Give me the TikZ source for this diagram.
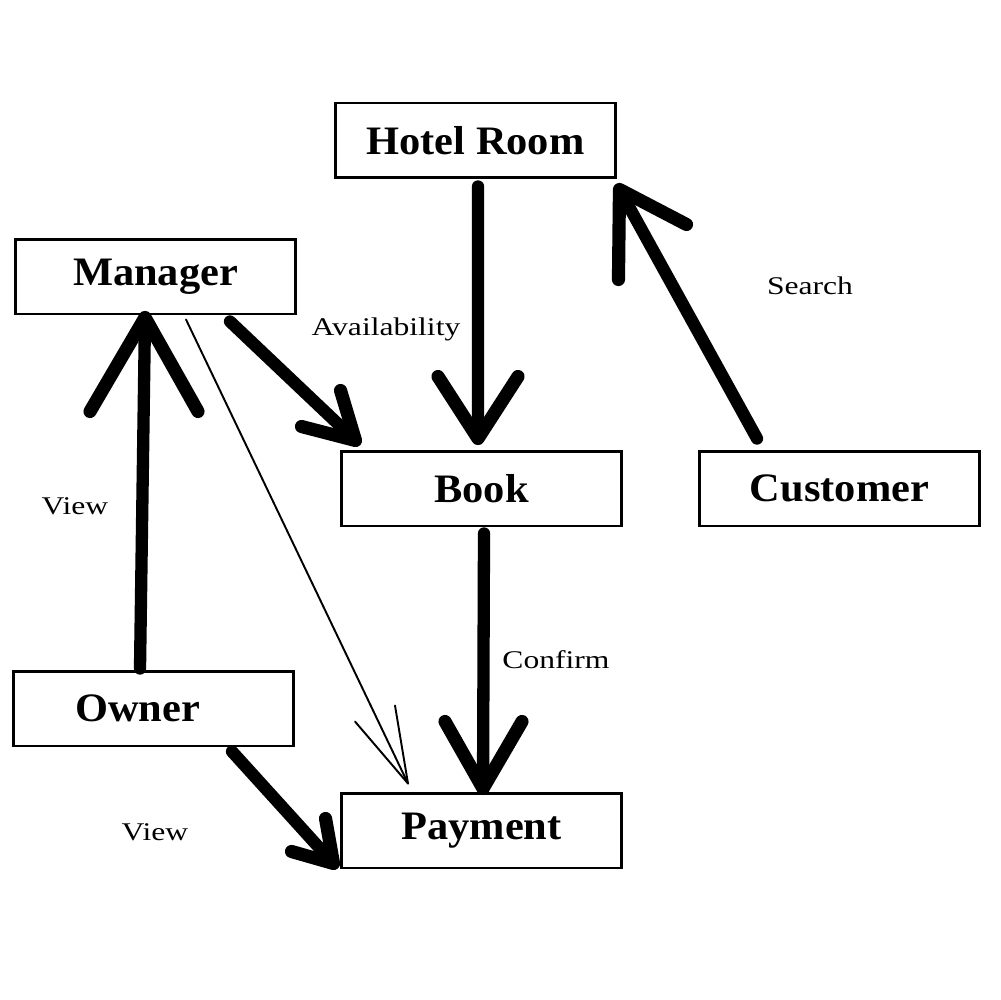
\documentclass[tikz,border=0pt]{standalone}
\usepackage{fontspec}
\setmainfont{Liberation Serif}
\newfontfamily\boxfont[FakeStretch=1.05]{Liberation Serif}
\newfontfamily\lblfont[FakeStretch=1.24]{Liberation Serif}
\usetikzlibrary{calc}
\begin{document}
\begin{tikzpicture}[x=0.02cm,y=-0.02cm,
  box/.style={draw=black,line width=1.7pt,minimum width=5.62cm,minimum height=1.5cm,inner sep=0pt,
    font=\boxfont\fontsize{23}{26}\selectfont\bfseries},
  shaft/.style={line width=7pt,line cap=round},
  arm/.style={line width=7.5pt,line cap=round,line join=round},
  thin/.style={line width=1.1pt,line cap=round,line join=round},
  lbl/.style={font=\lblfont\fontsize{14.5}{17}\selectfont,inner sep=0pt}]
\useasboundingbox (0,0) rectangle (1000,1000);
\node[box] (hotel) at (475.5,140.5) {Hotel Room};
\node[box] (manager) at (155.5,276.5) {Manager};
\node[box] (book) at (481.5,488.5) {Book};
\node[box] (customer) at (839.5,488.5) {Customer};
\node[box,text width=5.2cm,align=left] (owner) at (153.5,708.5) {\hspace*{1.03cm}Owner};
\node[box] (payment) at (481.5,830.5) {Payment};
% Hotel Room -> Book
\coordinate (t1) at ($(book.north)+(-3.5,-11)$);
\draw[shaft] ($(hotel.south)+(2.5,7)$) -- (t1);
\draw[arm] ($(t1)+(-40,-62)$) -- (t1) -- ($(t1)+(40,-62)$);
% Customer -> Hotel Room
\coordinate (t2) at ($(hotel.south east)+(2,10)$);
\draw[shaft] ($(customer.north)+(-82.5,-11)$) -- (t2);
\draw[arm] ($(t2)+(-1,90)$) -- (t2) -- ($(t2)+(67,35)$);
% Manager -> Book
\coordinate (t3) at ($(book.north west)+(16,-9)$);
\draw[shaft] ($(manager.south)+(74.5,6)$) -- (t3);
\draw[arm] ($(t3)+(-15,-50)$) -- (t3) -- ($(t3)+(-54,-14)$);
% Owner -> Manager
\coordinate (t4) at ($(manager.south)+(-10.5,2)$);
\draw[shaft] ($(owner.north)+(-13.5,-1)$) -- (t4);
\draw[arm] ($(t4)+(-55,94)$) -- (t4) -- ($(t4)+(53,94)$);
% Manager -> Payment (thin)
\coordinate (t5) at ($(payment.north)+(-73.5,-8)$);
\draw[thin] ($(manager.south)+(30.5,4)$) -- (t5);
\draw[thin] ($(t5)+(-13,-78)$) -- (t5) -- ($(t5)+(-53,-62)$);
% Book -> Payment
\coordinate (t6) at ($(payment.north)+(1.5,-3)$);
\draw[shaft] ($(book.south)+(2.5,6)$) -- (t6);
\draw[arm] ($(t6)+(-38,-67)$) -- (t6) -- ($(t6)+(39,-67)$);
% Owner -> Payment
\coordinate (t7) at ($(payment.south west)+(-6,-6)$);
\draw[shaft] ($(owner.south)+(78.5,4)$) -- (t7);
\draw[arm] ($(t7)+(-8,-45)$) -- (t7) -- ($(t7)+(-42,-12)$);
% labels
\node[lbl] (l1) at (810,286) {Search};
\node[lbl] (l2) at (386,329) {Availability};
\node[lbl] (l3) at (75,506) {View};
\node[lbl] (l4) at (556,660) {Confirm};
\node[lbl] (l5) at (155,832) {View};
\end{tikzpicture}
\end{document}
